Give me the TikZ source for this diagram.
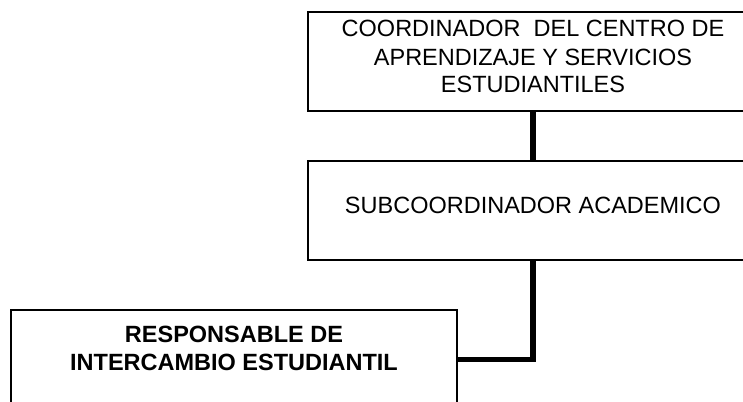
\documentclass[tikz,border=0pt]{standalone}
\usepackage{fontspec}
\setmainfont{Liberation Sans}
\begin{document}
\begin{tikzpicture}[x=1pt,y=-1pt,
  cargo/.style={draw,line width=1.1pt,minimum height=99pt,inner sep=0pt,align=center,
    text height=17pt,font=\fontsize{23.5}{28}\selectfont},
  enlace/.style={line width=5.5pt}]
\clip (0,0) rectangle (743,401);
\node[cargo,minimum width=450pt,text height=73pt,text depth=10pt] (coord) at (533,61.5)
  {COORDINADOR\ \ DEL CENTRO DE\\APRENDIZAJE Y SERVICIOS\\ESTUDIANTILES};
\node[cargo,minimum width=450pt,text depth=11pt] (subc) at (533,210.5)
  {SUBCOORDINADOR ACADEMICO};
\node[cargo,minimum width=446pt,text height=45pt,text depth=23pt,font=\fontsize{23.5}{28}\selectfont\bfseries] (resp) at (234,359.5)
  {RESPONSABLE DE\\INTERCAMBIO ESTUDIANTIL};
\draw[enlace] (coord.south) -- (subc.north);
\draw[enlace] (subc.south) |- (resp.east);
\end{tikzpicture}
\end{document}
